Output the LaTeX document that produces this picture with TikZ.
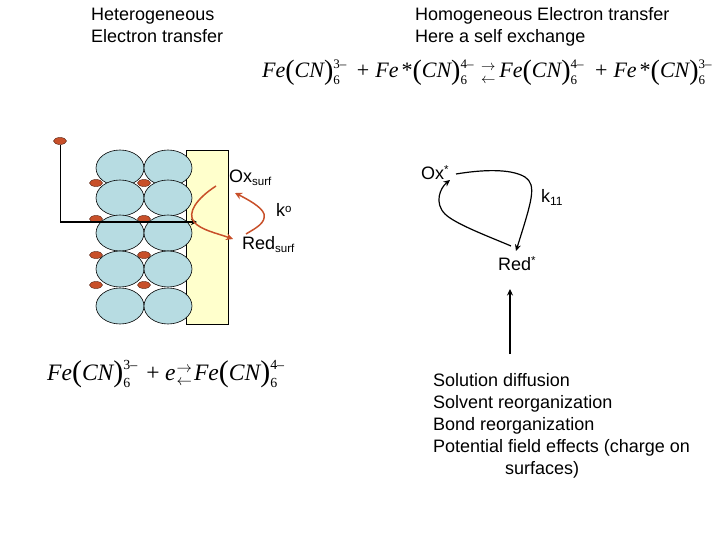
\documentclass[tikz,border=0pt]{standalone}
\usepackage{fontspec}
\setmainfont{Liberation Sans}
\newfontfamily\eqfont{Liberation Serif}
\usetikzlibrary{arrows.meta,shapes.geometric}
\definecolor{ball}{HTML}{B7DCE2}
\definecolor{elec}{HTML}{FFFFCC}
\definecolor{redox}{HTML}{C8502A}
\newcommand{\parL}{\raisebox{-1.5pt}{\fontsize{28}{28}\selectfont\upshape(}}
\newcommand{\parR}{\raisebox{-1.5pt}{\fontsize{28}{28}\selectfont\upshape)}}
\newcommand{\chg}[1]{\rlap{\raisebox{9.5pt}{\fontsize{13}{13}\selectfont\upshape #1}}\raisebox{-7pt}{\fontsize{13}{13}\selectfont\upshape 6}\hspace{8pt}}
\newcommand{\eqarr}{\rlap{\raisebox{7pt}{\fontsize{14}{14}\selectfont$\rightarrow$}}\raisebox{-5.5pt}{\fontsize{14}{14}\selectfont$\leftarrow$}}
\tikzset{
  lab/.style={anchor=base west,inner sep=0pt,font=\fontsize{18}{20}\selectfont},
  eqn/.style={anchor=base west,inner sep=0pt,font=\eqfont\itshape\fontsize{22}{24}\selectfont},
  ballnode/.style={draw=black,line width=0.6pt,fill=ball,ellipse,minimum width=48pt,minimum height=36pt,inner sep=0pt},
  ion/.style={draw=black!60!redox,line width=0.4pt,fill=redox,ellipse,minimum width=13pt,minimum height=7pt,inner sep=0pt},
  redarrow/.style={draw=redox,line width=1.5pt,-{Stealth[length=7pt,width=7pt]}},
  blackarrow/.style={draw=black,line width=1.2pt,-{Stealth[length=6.5pt,width=6pt]}}
}
\begin{document}
\begin{tikzpicture}[x=1pt,y=-1pt]
\useasboundingbox (0,0) rectangle (720,540);
% headings
\node[lab] (h1) at (91,21) {Heterogeneous};
\node[lab] (h2) at (91,43) {Electron transfer};
\node[lab] (h3) at (415,21) {Homogeneous Electron transfer};
\node[lab] (h4) at (415,43) {Here a self exchange};
% equations
\node[eqn] (eq1) at (262,78) {Fe\parL CN\parR\chg{3–}\hspace{9pt}{\upshape +}\hspace{6pt}Fe\hspace{2pt}*\hspace{1pt}\parL CN\parR\chg{4–}\hspace{6pt}\eqarr\hspace{4pt}Fe\parL CN\parR\chg{4–}\hspace{10pt}{\upshape +}\hspace{6pt}Fe\hspace{2pt}*\hspace{1pt}\parL CN\parR\chg{3–}};
\node[eqn,scale=1.07,transform shape] (eq2) at (47,380) {Fe\parL CN\parR\chg{3–}\hspace{7pt}{\upshape +}\hspace{5pt}e\hspace{1pt}\eqarr\hspace{2pt}Fe\parL CN\parR\chg{4–}};
% electrode
\node[draw=black,line width=0.6pt,fill=elec,minimum width=42pt,minimum height=174pt,inner sep=0pt] (electrode) at (207.7,237) {};
% balls
\foreach \n/\y in {1/168,2/198,3/233,4/269,5/306}{
  \node[ballnode] (a\n) at (120,\y) {};
  \node[ballnode] (b\n) at (168,\y) {};
}
% ions
\node[ion] (free) at (60,141) {};
\foreach \n/\y in {1/183,2/219,3/255,4/285}{
  \node[ion] (ia\n) at (96,\y) {};
  \node[ion] (ib\n) at (144,\y) {};
}
% electron path
\coordinate (corner) at (60,222);
\coordinate (wireend) at (197,222);
\draw[line width=0.9pt] (free.south) -- (corner);
\draw[draw=black,line width=1.5pt,-{Stealth[length=6pt,width=6pt]}] (corner) -- (wireend);
% surface labels
\node[lab] (ox) at (229,183) {Ox\raisebox{-3pt}{\fontsize{11.5}{11.5}\selectfont surf}};
\node[lab] (red) at (242,249) {Red\raisebox{-3pt}{\fontsize{11.5}{11.5}\selectfont surf}};
\node[lab] (k0) at (276,217) {k\raisebox{5pt}{\fontsize{11.5}{11.5}\selectfont o}};
% red curves
\coordinate (r1) at (216,186);
\coordinate (r2) at (233,239);
\coordinate (r3) at (246,234);
\coordinate (r4) at (235,193);
\draw[redarrow] (r1) .. controls (196,199) and (187,213) .. (194,222) .. controls (201,230) and (216,233) .. (r2);
\draw[redarrow] (r3) .. controls (256,228) and (266,223) .. (264,214) .. controls (262,207) and (247,199) .. (r4);
% self exchange
\node[lab] (oxs) at (421,180) {Ox\raisebox{6pt}{\fontsize{11.5}{11.5}\selectfont *}};
\node[lab] (reds) at (498,270) {Red\raisebox{6pt}{\fontsize{11.5}{11.5}\selectfont *}};
\node[lab] (k11) at (541,203) {k\raisebox{-3pt}{\fontsize{12}{12}\selectfont 11}};
\coordinate (s1) at (456,174);
\coordinate (s2) at (516,251);
\coordinate (s3) at (511,246);
\coordinate (s4) at (450,180);
\draw[blackarrow] (s1) .. controls (480,170) and (510,168) .. (525,177) .. controls (537,185) and (532,200) .. (s2);
\draw[blackarrow] (s3) .. controls (490,237) and (455,224) .. (445,214) .. controls (434,203) and (440,188) .. (s4);
\coordinate (u1) at (510,354);
\coordinate (u2) at (510,289);
\draw[blackarrow] (u1) -- (u2);
% list
\node[lab] (l1) at (433,386) {Solution diffusion};
\node[lab] (l2) at (433,408) {Solvent reorganization};
\node[lab] (l3) at (433,430) {Bond reorganization};
\node[lab] (l4) at (433,452) {Potential field effects (charge on};
\node[lab] (l5) at (505,474) {surfaces)};
\end{tikzpicture}
\end{document}
